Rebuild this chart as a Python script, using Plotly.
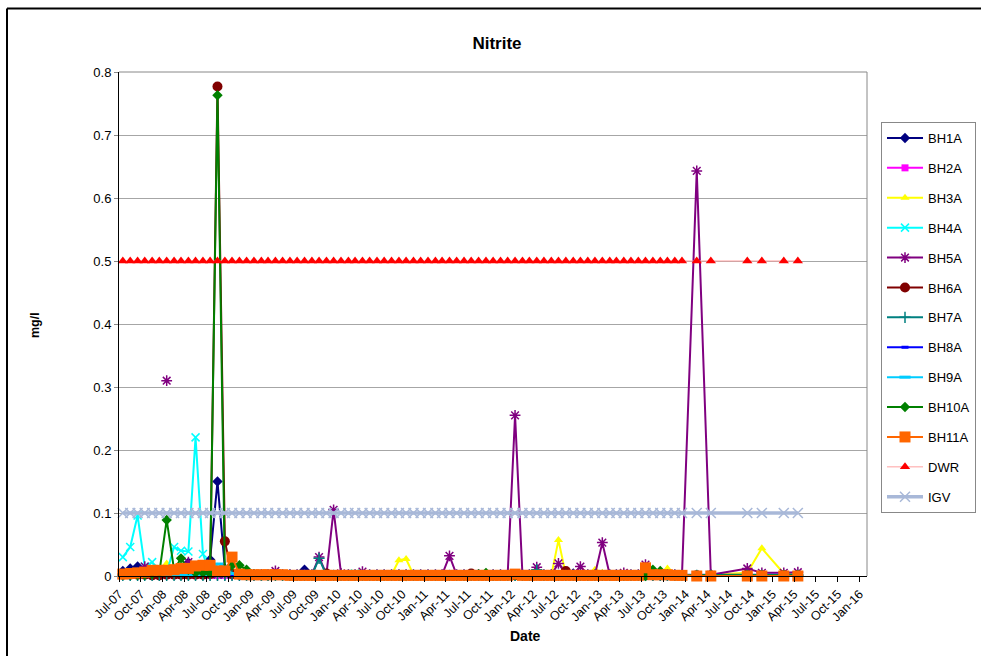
import plotly.graph_objects as go
import pandas as pd

# ---------------- data ----------------
sample_dates = [
    "2007-07-17", "2007-08-17", "2007-09-17", "2007-10-17", "2007-11-17", "2007-12-17",
    "2008-01-17", "2008-02-17", "2008-03-17", "2008-04-17", "2008-05-17", "2008-06-17",
    "2008-07-17", "2008-08-17", "2008-09-17", "2008-10-17", "2008-11-17", "2008-12-17",
    "2009-01-17", "2009-02-17", "2009-03-17", "2009-04-17", "2009-05-17", "2009-06-17",
    "2009-07-17", "2009-08-17", "2009-09-17", "2009-10-17", "2009-11-17", "2009-12-17",
    "2010-01-17", "2010-02-17", "2010-03-17", "2010-04-17", "2010-05-17", "2010-06-17",
    "2010-07-17", "2010-08-17", "2010-09-17", "2010-10-17", "2010-11-17", "2010-12-17",
    "2011-01-17", "2011-02-17", "2011-03-17", "2011-04-17", "2011-05-17", "2011-06-17",
    "2011-07-17", "2011-08-17", "2011-09-17", "2011-10-17", "2011-11-17", "2011-12-17",
    "2012-01-17", "2012-02-17", "2012-03-17", "2012-04-17", "2012-05-17", "2012-06-17",
    "2012-07-17", "2012-08-17", "2012-09-17", "2012-10-17", "2012-11-17", "2012-12-17",
    "2013-01-17", "2013-02-17", "2013-03-17", "2013-04-17", "2013-05-17", "2013-06-17",
    "2013-07-17", "2013-08-17", "2013-09-17", "2013-10-17", "2013-11-17", "2013-12-17",
    "2014-02-17", "2014-04-17", "2014-09-17", "2014-11-17", "2015-02-17", "2015-04-17",
]

BH1A = [
    0.008, 0.012, 0.015, 0.010, 0.005, 0.004, 0.012, 0.005, 0.003, 0.021, 0.004, 0.005,
    0.026, 0.150, 0.012, 0.004, 0.003, 0.003, 0.002, 0.002, 0.002, 0.002, 0.002, 0.002,
    0.001, 0.010, 0.001, 0.001, 0.001, 0.001, 0.001, 0.001, 0.001, 0.001, 0.001, 0.001,
    0.001, 0.001, 0.001, 0.001, 0.001, 0.001, 0.001, 0.001, 0.001, 0.001, 0.001, 0.001,
    0.001, 0.001, 0.001, 0.001, 0.001, 0.001, 0.001, 0.001, 0.001, 0.001, 0.001, 0.001,
    0.001, 0.001, 0.004, 0.001, 0.001, 0.001, 0.001, 0.001, 0.001, 0.001, 0.001, 0.001,
    0.001, 0.001, 0.001, 0.001, 0.001, 0.001, 0.001, 0.001, 0.001, 0.001, 0.001, 0.001,
]
BH2A = [
    0.001, 0.001, 0.001, 0.001, 0.001, 0.001, 0.001, 0.001, 0.001, 0.001, 0.001, 0.001,
    0.001, 0.001, 0.001, 0.001, 0.001, 0.001, 0.001, 0.001, 0.001, 0.001, 0.001, 0.001,
    0.001, 0.001, 0.001, 0.001, 0.001, 0.001, 0.001, 0.001, 0.001, 0.001, 0.001, 0.001,
    0.001, 0.001, 0.001, 0.001, 0.001, 0.001, 0.001, 0.001, 0.001, 0.001, 0.001, 0.001,
    0.001, 0.001, 0.001, 0.001, 0.001, 0.001, 0.001, 0.001, 0.001, 0.001, 0.001, 0.001,
    0.001, 0.001, 0.001, 0.001, 0.001, 0.001, 0.001, 0.001, 0.001, 0.001, 0.001, 0.001,
    0.001, 0.001, 0.001, 0.001, 0.001, 0.001, 0.001, 0.001, 0.001, 0.001, 0.001, 0.001,
]
BH3A = [
    0.001, 0.001, 0.001, 0.002, 0.002, 0.003, 0.020, 0.003, 0.002, 0.002, 0.001, 0.001,
    0.001, 0.001, 0.001, 0.001, 0.001, 0.001, 0.001, 0.001, 0.001, 0.001, 0.001, 0.001,
    0.001, 0.001, 0.001, 0.001, 0.001, 0.001, 0.001, 0.001, 0.001, 0.001, 0.001, 0.001,
    0.001, 0.002, 0.025, 0.027, 0.002, 0.001, 0.001, 0.001, 0.001, 0.001, 0.001, 0.001,
    0.001, 0.001, 0.001, 0.004, 0.001, 0.001, 0.001, 0.001, 0.001, 0.001, 0.001, 0.001,
    0.057, 0.002, 0.001, 0.001, 0.001, 0.010, 0.005, 0.001, 0.001, 0.001, 0.001, 0.001,
    0.001, 0.002, 0.002, 0.012, 0.002, 0.001, 0.001, 0.002, 0.005, 0.044, 0.004, 0.002,
]
BH4A = [
    0.030, 0.046, 0.096, 0.015, 0.022, 0.004, 0.005, 0.046, 0.040, 0.039, 0.220, 0.035,
    0.005, 0.003, 0.002, 0.002, 0.002, 0.001, 0.001, 0.001, 0.001, 0.001, 0.001, 0.001,
    0.001, 0.001, 0.001, 0.001, 0.001, 0.001, 0.001, 0.001, 0.004, 0.001, 0.001, 0.001,
    0.001, 0.001, 0.001, 0.001, 0.001, 0.001, 0.001, 0.001, 0.001, 0.001, 0.001, 0.001,
    0.001, 0.001, 0.001, 0.001, 0.001, 0.001, 0.001, 0.001, 0.001, 0.001, 0.001, 0.001,
    0.001, 0.001, 0.001, 0.001, 0.001, 0.001, 0.001, 0.001, 0.001, 0.001, 0.001, 0.001,
    0.001, 0.001, 0.001, 0.001, 0.001, 0.001, 0.001, 0.001, 0.001, 0.001, 0.001, 0.001,
]
BH5A = [
    0.003, 0.004, 0.005, 0.015, 0.005, None, 0.310, None, 0.005, 0.022, 0.004, 0.003,
    0.003, 0.002, 0.002, 0.002, 0.002, 0.002, 0.002, 0.002, 0.002, 0.008, 0.002, 0.002,
    0.002, 0.002, 0.002, 0.030, 0.003, 0.105, 0.004, 0.002, 0.002, 0.007, 0.002, 0.002,
    0.002, 0.002, 0.002, 0.002, 0.002, 0.002, 0.002, 0.002, 0.002, 0.032, 0.002, 0.002,
    0.002, 0.002, 0.002, 0.002, 0.002, 0.002, 0.255, 0.002, 0.002, 0.014, 0.002, 0.002,
    0.020, 0.003, 0.002, 0.015, 0.002, 0.002, 0.053, 0.002, 0.002, 0.005, 0.002, 0.002,
    0.018, 0.002, 0.002, 0.002, 0.002, 0.001, 0.643, 0.002, 0.012, 0.005, 0.005, 0.006,
]
BH6A = [
    0.002, 0.002, 0.002, 0.002, 0.001, 0.001, 0.002, 0.002, 0.002, 0.002, 0.002, 0.002,
    0.003, 0.777, 0.055, 0.003, 0.002, 0.002, 0.001, 0.001, 0.001, 0.001, 0.001, 0.001,
    0.001, 0.001, 0.001, 0.001, 0.004, 0.001, 0.001, 0.001, 0.001, 0.001, 0.001, 0.001,
    0.001, 0.001, 0.001, 0.001, 0.001, 0.001, 0.001, 0.001, 0.001, 0.001, 0.001, 0.001,
    0.004, 0.001, 0.001, 0.001, 0.001, 0.001, 0.001, 0.001, 0.001, 0.001, 0.001, 0.001,
    0.001, 0.008, 0.001, 0.001, 0.001, 0.001, 0.001, 0.001, 0.001, 0.001, 0.001, 0.001,
    0.001, 0.001, 0.001, 0.001, 0.001, 0.001, 0.001, 0.001, 0.001, 0.001, 0.001, 0.001,
]
BH7A = [
    0.001, 0.001, 0.001, 0.001, 0.001, 0.001, 0.001, 0.001, 0.001, 0.001, 0.001, 0.001,
    0.001, 0.001, 0.001, 0.001, 0.001, 0.001, 0.001, 0.001, 0.001, 0.001, 0.001, 0.001,
    0.001, 0.001, 0.001, 0.028, 0.001, 0.001, 0.001, 0.001, 0.001, 0.001, 0.001, 0.001,
    0.001, 0.001, 0.001, 0.001, 0.001, 0.001, 0.001, 0.001, 0.001, 0.001, 0.001, 0.001,
    0.001, 0.001, 0.001, 0.001, 0.001, 0.001, 0.001, 0.001, 0.001, 0.010, 0.001, 0.001,
    0.001, 0.001, 0.001, 0.001, 0.001, 0.001, 0.001, 0.001, 0.001, 0.001, 0.001, 0.001,
    0.001, 0.001, 0.001, 0.001, 0.001, 0.001, 0.001, 0.001, 0.001, 0.001, 0.001, 0.001,
]
BH8A = [
    0.001, 0.001, 0.001, 0.001, 0.001, 0.001, 0.001, 0.001, 0.001, 0.001, 0.001, 0.001,
    0.001, 0.001, 0.001, 0.001, 0.001, 0.001, 0.001, 0.001, 0.001, 0.001, 0.001, 0.001,
    0.001, 0.001, 0.001, 0.001, 0.001, 0.001, 0.001, 0.001, 0.001, 0.001, 0.001, 0.001,
    0.001, 0.001, 0.001, 0.001, 0.001, 0.001, 0.001, 0.001, 0.001, 0.001, 0.001, 0.001,
    0.001, 0.001, 0.001, 0.001, 0.001, 0.001, 0.001, 0.001, 0.001, 0.001, 0.001, 0.001,
    0.001, 0.001, 0.001, 0.001, 0.001, 0.001, 0.001, 0.001, 0.001, 0.001, 0.001, 0.001,
    0.001, 0.001, 0.001, 0.001, 0.001, 0.001, 0.002, 0.002, 0.002, 0.002, 0.002, 0.002,
]
BH9A = [
    0.001, 0.001, 0.001, 0.001, 0.001, 0.001, 0.001, 0.001, 0.001, 0.001, 0.001, 0.001,
    0.001, 0.019, 0.015, 0.004, 0.001, 0.001, 0.001, 0.001, 0.001, 0.001, 0.001, 0.001,
    0.001, 0.001, 0.001, 0.001, 0.001, 0.001, 0.001, 0.001, 0.005, 0.001, 0.001, 0.001,
    0.001, 0.001, 0.001, 0.001, 0.001, 0.001, 0.001, 0.001, 0.001, 0.001, 0.001, 0.001,
    0.001, 0.001, 0.001, 0.001, 0.001, 0.001, 0.001, 0.001, 0.001, 0.001, 0.001, 0.001,
    0.001, 0.001, 0.001, 0.001, 0.001, 0.001, 0.001, 0.001, 0.001, 0.001, 0.001, 0.001,
    0.001, 0.001, 0.001, 0.001, 0.001, 0.001, 0.001, 0.001, 0.001, 0.001, 0.001, 0.001,
]
BH10A = [
    0.002, 0.002, 0.002, 0.002, 0.003, 0.005, 0.089, 0.010, 0.028, 0.010, 0.005, 0.005,
    0.004, 0.763, 0.005, 0.017, 0.017, 0.010, 0.003, 0.002, 0.001, 0.001, 0.001, 0.001,
    0.001, 0.001, 0.001, 0.001, 0.001, 0.001, 0.001, 0.001, 0.001, 0.001, 0.001, 0.001,
    0.001, 0.001, 0.001, 0.000, 0.001, 0.001, 0.001, 0.001, 0.001, 0.001, 0.001, 0.001,
    0.001, 0.003, 0.005, 0.001, 0.001, 0.001, 0.001, 0.001, 0.001, 0.001, 0.001, 0.001,
    0.001, 0.001, 0.001, 0.001, 0.001, 0.001, 0.001, 0.001, 0.001, 0.001, 0.001, 0.001,
    0.000, 0.010, 0.008, 0.002, 0.001, 0.001, 0.001, 0.001, 0.001, 0.001, 0.001, 0.001,
]
BH11A = [
    0.003, 0.004, 0.005, 0.006, 0.009, 0.009, 0.009, 0.010, 0.012, 0.012, 0.016, 0.017,
    0.017, 0.008, 0.008, 0.030, 0.003, 0.002, 0.002, 0.002, 0.002, 0.002, 0.002, 0.001,
    0.001, 0.001, 0.001, 0.001, 0.001, 0.001, 0.001, 0.001, 0.001, 0.001, 0.001, 0.001,
    0.001, 0.001, 0.001, 0.001, 0.001, 0.001, 0.001, 0.001, 0.001, 0.001, 0.001, 0.001,
    0.001, 0.001, 0.001, 0.001, 0.001, 0.001, 0.003, 0.001, 0.001, 0.001, 0.001, 0.001,
    0.001, 0.001, 0.001, 0.001, 0.001, 0.001, 0.001, 0.001, 0.001, 0.001, 0.001, 0.001,
    0.013, 0.002, 0.002, 0.002, 0.001, 0.001, 0.000, 0.000, 0.000, 0.000, 0.000, 0.000,
]
DWR = [
    0.5, 0.5, 0.5, 0.5, 0.5, 0.5, 0.5, 0.5, 0.5, 0.5, 0.5, 0.5,
    0.5, 0.5, 0.5, 0.5, 0.5, 0.5, 0.5, 0.5, 0.5, 0.5, 0.5, 0.5,
    0.5, 0.5, 0.5, 0.5, 0.5, 0.5, 0.5, 0.5, 0.5, 0.5, 0.5, 0.5,
    0.5, 0.5, 0.5, 0.5, 0.5, 0.5, 0.5, 0.5, 0.5, 0.5, 0.5, 0.5,
    0.5, 0.5, 0.5, 0.5, 0.5, 0.5, 0.5, 0.5, 0.5, 0.5, 0.5, 0.5,
    0.5, 0.5, 0.5, 0.5, 0.5, 0.5, 0.5, 0.5, 0.5, 0.5, 0.5, 0.5,
    0.5, 0.5, 0.5, 0.5, 0.5, 0.5, 0.5, 0.5, 0.5, 0.5, 0.5, 0.5,
]
IGV = [
    0.1, 0.1, 0.1, 0.1, 0.1, 0.1, 0.1, 0.1, 0.1, 0.1, 0.1, 0.1,
    0.1, 0.1, 0.1, 0.1, 0.1, 0.1, 0.1, 0.1, 0.1, 0.1, 0.1, 0.1,
    0.1, 0.1, 0.1, 0.1, 0.1, 0.1, 0.1, 0.1, 0.1, 0.1, 0.1, 0.1,
    0.1, 0.1, 0.1, 0.1, 0.1, 0.1, 0.1, 0.1, 0.1, 0.1, 0.1, 0.1,
    0.1, 0.1, 0.1, 0.1, 0.1, 0.1, 0.1, 0.1, 0.1, 0.1, 0.1, 0.1,
    0.1, 0.1, 0.1, 0.1, 0.1, 0.1, 0.1, 0.1, 0.1, 0.1, 0.1, 0.1,
    0.1, 0.1, 0.1, 0.1, 0.1, 0.1, 0.1, 0.1, 0.1, 0.1, 0.1, 0.1,
]

tick_labels = [
    "Jul-07", "Oct-07", "Jan-08", "Apr-08", "Jul-08", "Oct-08", "Jan-09", "Apr-09",
    "Jul-09", "Oct-09", "Jan-10", "Apr-10", "Jul-10", "Oct-10", "Jan-11", "Apr-11",
    "Jul-11", "Oct-11", "Jan-12", "Apr-12", "Jul-12", "Oct-12", "Jan-13", "Apr-13",
    "Jul-13", "Oct-13", "Jan-14", "Apr-14", "Jul-14", "Oct-14", "Jan-15", "Apr-15",
    "Jul-15", "Oct-15", "Jan-16",
]
y_ticks = [0, 0.1, 0.2, 0.3, 0.4, 0.5, 0.6, 0.7, 0.8]

# ---------------- figure ----------------
W, H = 981, 656
L, R, T, B = 119, 867, 72, 576
def px_x(x):
    return (x - L) / (R - L)
def px_y(y):
    return (B - y) / (B - T)

tick_vals = pd.to_datetime(tick_labels, format="%b-%y")
x_dates = pd.to_datetime(sample_dates)

styles = [
    ("BH1A", BH1A, "#000080", "diamond", 8, "#000080", 0, 2),
    ("BH2A", BH2A, "#FF00FF", "square", 7, "#FF00FF", 0, 2),
    ("BH3A", BH3A, "#FFFF00", "triangle-up", 8, "#FFFF00", 0, 2),
    ("BH4A", BH4A, "#00FFFF", "x-thin-open", 8, "#00FFFF", 1.5, 2),
    ("BH5A", BH5A, "#800080", "asterisk-open", 9, "#800080", 1.5, 2),
    ("BH6A", BH6A, "#800000", "circle", 10, "#800000", 0, 2),
    ("BH7A", BH7A, "#008080", "cross-thin-open", 8, "#008080", 1.5, 2),
    ("BH8A", BH8A, "#0000FF", "line-ew-open", 5, "#0000FF", 3, 2),
    ("BH9A", BH9A, "#00CCFF", "line-ew-open", 8, "#00CCFF", 3, 2),
    ("BH10A", BH10A, "#008000", "diamond", 8, "#008000", 0, 2),
    ("BH11A", BH11A, "#FF6600", "square", 11, "#FF6600", 0, 2),
]

fig = go.Figure()
for name, vals, col, sym, size, mcol, mlw, lw in styles:
    fig.add_trace(go.Scatter(
        x=x_dates, y=vals, name=name, mode="lines+markers",
        line=dict(color=col, width=lw),
        marker=dict(symbol=sym, size=size, color=mcol,
                    line=dict(color=mcol, width=mlw)),
        cliponaxis=False, legendgroup=name,
    ))

fig.add_trace(go.Scatter(
    x=x_dates, y=DWR, name="DWR", mode="lines+markers",
    line=dict(color="#FFA0A0", width=1),
    marker=dict(symbol="triangle-up", size=9, color="#FF0000"),
    cliponaxis=False, legendgroup="DWR",
))
fig.add_trace(go.Scatter(
    x=x_dates, y=IGV, name="IGV", mode="lines+markers",
    line=dict(color="#A8B8D8", width=3.5),
    marker=dict(symbol="x-thin-open", size=10, color="#A8B8D8",
                line=dict(color="#A8B8D8", width=1.5)),
    cliponaxis=False, legendgroup="IGV",
))

font_family = "Liberation Sans, Arial, sans-serif"

fig.update_layout(
    width=W, height=H,
    margin=dict(l=L, r=W - R, t=T, b=H - B, autoexpand=False),
    paper_bgcolor="white", plot_bgcolor="white",
    font=dict(family=font_family, size=13, color="black"),
    title=dict(text="<b>Nitrite</b>", x=497 / W, y=1 - 43 / H,
               xanchor="center", yanchor="middle",
               font=dict(family=font_family, size=17, color="black")),
    showlegend=True,
    legend=dict(x=px_x(881), y=px_y(122), xanchor="left", yanchor="top",
                bgcolor="white", bordercolor="#888888", borderwidth=1,
                font=dict(family=font_family, size=13, color="black"),
                tracegroupgap=10, itemwidth=36),
    xaxis=dict(type="date", range=["2007-07-01", "2016-02-01"],
               tickmode="array", tickvals=tick_vals, ticktext=tick_labels,
               tickangle=-45, tickfont=dict(size=12.5),
               showgrid=False, zeroline=False,
               showline=True, linecolor="black", linewidth=1,
               ticks="outside", ticklen=5, tickcolor="black"),
    yaxis=dict(range=[0, 0.8], tickmode="array", tickvals=y_ticks,
               ticktext=[("%g" % v) for v in y_ticks],
               tickfont=dict(size=13),
               showgrid=True, gridcolor="#A6A6A6", gridwidth=1,
               zeroline=False, showline=True, linecolor="black", linewidth=1,
               ticks="outside", ticklen=4, tickcolor="#888888"),
    annotations=[
        dict(text="<b>mg/l</b>", x=px_x(35), y=px_y(325), xref="paper", yref="paper",
             showarrow=False, textangle=-90, font=dict(size=12.5),
             xanchor="center", yanchor="middle"),
        dict(text="<b>Date</b>", x=px_x(525), y=px_y(636), xref="paper", yref="paper",
             showarrow=False, font=dict(size=14), xanchor="center", yanchor="middle"),
    ],
    shapes=[
        dict(type="line", xref="paper", yref="paper", x0=0, x1=1, y0=1, y1=1,
             line=dict(color="#888888", width=1)),
        dict(type="line", xref="paper", yref="paper", x0=1, x1=1, y0=0, y1=1,
             line=dict(color="#888888", width=1)),
        dict(type="line", xref="paper", yref="paper", x0=px_x(7), x1=px_x(990),
             y0=px_y(8.5), y1=px_y(8.5), line=dict(color="black", width=2)),
        dict(type="line", xref="paper", yref="paper", x0=px_x(7), x1=px_x(7),
             y0=px_y(8.5), y1=px_y(670), line=dict(color="black", width=2)),
    ],
)

fig.write_html("out.html")
